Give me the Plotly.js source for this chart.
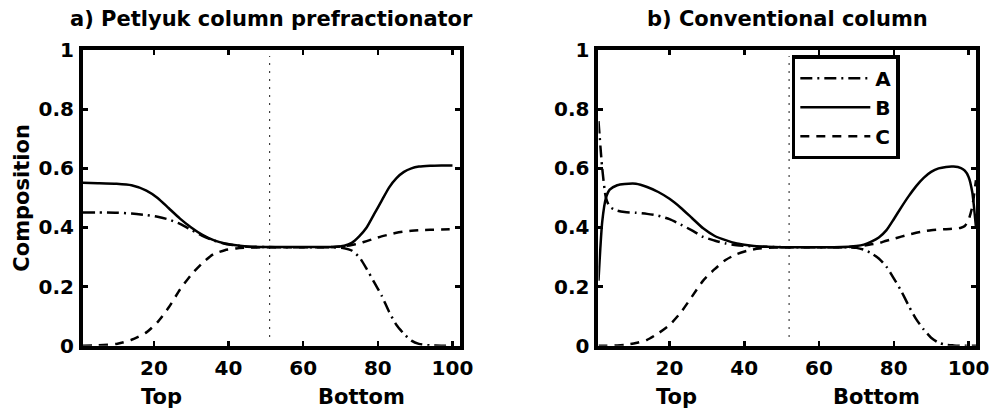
<!DOCTYPE html>
<html>
<head>
<meta charset="utf-8">
<script src="https://cdn.plot.ly/plotly-3.0.1.min.js"></script>
<style>html,body{margin:0;padding:0;background:#fff;}#chart{width:996px;height:418px;}</style>
</head>
<body>
<div id="chart"></div>
<script>
// ---------- data ----------
const panelTitles = ["a) Petlyuk column prefractionator", "b) Conventional column"];
const seriesNames = ["A", "B", "C"];
const feedStage = [51, 52];
const xTickVals = [20, 40, 60, 80, 100];
const yTickVals = [0, 0.2, 0.4, 0.6, 0.8, 1];
const endLabels = ["Top", "Bottom"];
const endLabelPos = [22, 75.5];

// Panel a) Petlyuk prefractionator
const stagesL = [1, 5, 10, 14, 18, 21, 24, 27, 30, 33, 36, 39, 42, 45, 50, 55, 60, 65, 68, 71, 73, 75, 77, 79, 81, 83, 85, 87, 89, 91, 94, 97, 100];
const A_L = [0.451, 0.451, 0.450, 0.447, 0.442, 0.436, 0.427, 0.412, 0.392, 0.372, 0.356, 0.345, 0.339, 0.335, 0.334, 0.333, 0.333, 0.333, 0.333, 0.330, 0.322, 0.300, 0.260, 0.215, 0.170, 0.115, 0.070, 0.040, 0.017, 0.006, 0.001, 0, 0];
const B_L = [0.551, 0.550, 0.548, 0.543, 0.525, 0.500, 0.465, 0.430, 0.400, 0.375, 0.357, 0.346, 0.340, 0.336, 0.334, 0.334, 0.334, 0.334, 0.334, 0.338, 0.348, 0.370, 0.400, 0.445, 0.490, 0.535, 0.567, 0.588, 0.600, 0.606, 0.609, 0.610, 0.610];
const C_L = [0, 0.001, 0.006, 0.020, 0.045, 0.080, 0.130, 0.190, 0.240, 0.280, 0.310, 0.323, 0.329, 0.332, 0.333, 0.333, 0.333, 0.333, 0.334, 0.337, 0.341, 0.346, 0.354, 0.362, 0.370, 0.376, 0.382, 0.386, 0.389, 0.391, 0.392, 0.393, 0.394];

// Panel b) Conventional column
const stagesR = [1, 2, 3, 4, 6, 8, 11, 14, 17, 20, 23, 26, 29, 32, 35, 38, 41, 44, 48, 52, 56, 60, 64, 68, 70, 72, 74, 76, 78, 80, 82, 84, 86, 88, 90, 92, 94, 96, 98, 99, 100, 101, 102];
const A_R = [0.76, 0.60, 0.50, 0.47, 0.457, 0.452, 0.450, 0.446, 0.440, 0.428, 0.410, 0.390, 0.368, 0.356, 0.346, 0.340, 0.337, 0.335, 0.334, 0.333, 0.333, 0.333, 0.333, 0.333, 0.331, 0.325, 0.313, 0.295, 0.268, 0.228, 0.185, 0.135, 0.090, 0.055, 0.027, 0.010, 0.003, 0.001, 0, 0, 0, 0, 0];
const B_R = [0.22, 0.42, 0.50, 0.528, 0.543, 0.547, 0.548, 0.537, 0.520, 0.497, 0.467, 0.432, 0.397, 0.372, 0.357, 0.346, 0.340, 0.336, 0.334, 0.333, 0.333, 0.333, 0.333, 0.335, 0.337, 0.342, 0.352, 0.366, 0.390, 0.428, 0.468, 0.506, 0.540, 0.568, 0.588, 0.600, 0.605, 0.606, 0.601, 0.592, 0.572, 0.520, 0.400];
const C_R = [0, 0, 0, 0, 0.001, 0.003, 0.009, 0.020, 0.042, 0.070, 0.112, 0.166, 0.220, 0.258, 0.290, 0.310, 0.322, 0.329, 0.332, 0.333, 0.333, 0.333, 0.333, 0.334, 0.336, 0.339, 0.343, 0.347, 0.355, 0.362, 0.369, 0.376, 0.382, 0.387, 0.391, 0.393, 0.394, 0.396, 0.399, 0.405, 0.425, 0.470, 0.560];

// ---------- styling ----------
const FONT = "DejaVu Sans, Liberation Sans, Arial, sans-serif";
const dashes = ["12px,5px,2px,5px", "solid", "9px,7px"];
const seriesL = [A_L, B_L, C_L];
const seriesR = [A_R, B_R, C_R];

const traces = [];
seriesNames.forEach((nm, i) => {
  traces.push({
    x: stagesL, y: seriesL[i], xaxis: "x", yaxis: "y", type: "scatter", mode: "lines",
    name: nm, showlegend: false,
    line: {color: "#000", width: 2.5, dash: dashes[i], shape: "spline", smoothing: 0.6}
  });
});
seriesNames.forEach((nm, i) => {
  traces.push({
    x: stagesR, y: seriesR[i], xaxis: "x2", yaxis: "y2", type: "scatter", mode: "lines",
    name: nm, showlegend: true,
    line: {color: "#000", width: 2.5, dash: dashes[i], shape: "spline", smoothing: 0.6}
  });
});

const boldFont = {family: FONT, size: 21, color: "#000", weight: "bold"};
const tickFont = {family: FONT, size: 20, color: "#000", weight: "bold"};
const legendFont = {family: FONT, size: 20, color: "#000", weight: "bold"};
function xax(domain) {
  return {
    domain: domain, range: [1, 102], tickmode: "array", tickvals: xTickVals,
    ticks: "inside", ticklen: 5, tickwidth: 2.5, tickcolor: "#000",
    showline: true, linecolor: "#000", linewidth: 4, mirror: "allticks",
    showgrid: false, zeroline: false, tickfont: tickFont, ticklabelstandoff: 1
  };
}
function yax(domain, anchor, title) {
  const a = {
    domain: domain, range: [0, 1], tickmode: "array", tickvals: yTickVals,
    ticktext: yTickVals.map(v => String(v)), anchor: anchor,
    ticks: "inside", ticklen: 5, tickwidth: 2.5, tickcolor: "#000",
    showline: true, linecolor: "#000", linewidth: 4, mirror: "allticks",
    showgrid: false, zeroline: false, tickfont: tickFont, ticklabelstandoff: 1
  };
  if (title) a.title = {text: title, font: boldFont, standoff: 4};
  return a;
}

const yDom = [0.173, 0.880];
const xDomL = [0.0833, 0.4618];
const xDomR = [0.6009, 0.9799];

const annotations = [];
[[xDomL, "x"], [xDomR, "x2"]].forEach((p, k) => {
  annotations.push({
    text: panelTitles[k], xref: "paper", yref: "paper",
    x: (p[0][0] + p[0][1]) / 2, y: 0.955, xanchor: "center", yanchor: "middle",
    showarrow: false, font: boldFont
  });
  endLabels.forEach((lab, j) => {
    annotations.push({
      text: lab, xref: p[1], yref: "paper", x: endLabelPos[j], y: 0.05,
      xanchor: "center", yanchor: "middle", showarrow: false, font: boldFont
    });
  });
});

const shapes = feedStage.map((fx, k) => ({
  type: "line", xref: k === 0 ? "x" : "x2", yref: k === 0 ? "y" : "y2",
  x0: fx, x1: fx, y0: 0.03, y1: 0.98,
  line: {color: "#000", width: 1.2, dash: "1.5px,6.5px"}
}));

const layout = {
  width: 996, height: 418, margin: {l: 0, r: 0, t: 0, b: 0},
  paper_bgcolor: "#fff", plot_bgcolor: "#fff",
  showlegend: true,
  xaxis: xax(xDomL), yaxis: yax(yDom, "x", "Composition"),
  xaxis2: xax(xDomR), yaxis2: yax(yDom, "x2", null),
  legend: {
    x: 0.795, y: 0.868, xanchor: "left", yanchor: "top", xref: "paper", yref: "paper",
    bgcolor: "#fff", bordercolor: "#000", borderwidth: 3.5,
    font: legendFont,
    traceorder: "normal", itemwidth: 70
  },
  annotations: annotations, shapes: shapes
};

Plotly.newPlot("chart", traces, layout, {displayModeBar: false, staticPlot: true});
</script>
</body>
</html>
